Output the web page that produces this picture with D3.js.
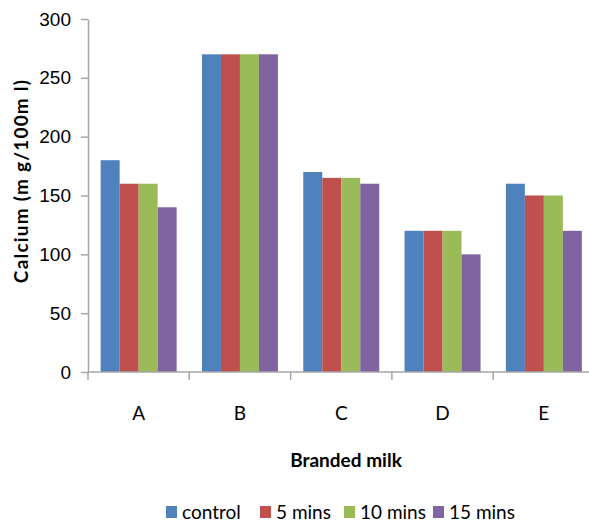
<!DOCTYPE html>
<html>
<head>
<meta charset="utf-8">
<script src="https://cdn.jsdelivr.net/npm/d3@7"></script>
<style>
  body { margin: 0; background: #fff; }
  svg { display: block; font-family: Lato, "Open Sans", sans-serif; }
</style>
</head>
<body>
<div id="chart"></div>
<script>
// data
const categories = ["A", "B", "C", "D", "E"];
const seriesNames = ["control", "5 mins", "10 mins", "15 mins"];
const control = [180, 270, 170, 120, 160];
const mins5 = [160, 270, 165, 120, 150];
const mins10 = [160, 270, 165, 120, 150];
const mins15 = [140, 270, 160, 100, 120];
const yTicks = [0, 50, 100, 150, 200, 250, 300];
const colors = ["#4F81BD", "#C0504D", "#9BBB59", "#8064A2"];

const seriesValues = [control, mins5, mins10, mins15];
const rows = categories.map((c, i) => ({
    cat: c,
    vals: seriesNames.map((s, j) => ({ key: s, value: seriesValues[j][i] }))
}));

const width = 589;
const height = 525;
const marginLeft = 88;
const marginTop = 19;
const plotBottom = 372;
const plotRight = 594.5;

const svg = d3.select("#chart").append("svg")
    .attr("width", width)
    .attr("height", height);

const x0 = d3.scaleBand().domain(categories).range([marginLeft, plotRight]).padding(0);
const gap = x0.step() * 0.25;
const x1 = d3.scaleBand().domain(seriesNames).range([gap / 2, x0.bandwidth() - gap / 2]).padding(0);
const y = d3.scaleLinear().domain([0, 300]).range([plotBottom, marginTop]);
const color = d3.scaleOrdinal().domain(seriesNames).range(colors);

// bars
svg.append("g")
    .selectAll("g")
    .data(rows)
    .join("g")
        .attr("transform", d => `translate(${x0(d.cat)},0)`)
    .selectAll("rect")
    .data(d => d.vals)
    .join("rect")
        .attr("x", d => x1(d.key))
        .attr("y", d => y(d.value))
        .attr("width", x1.bandwidth())
        .attr("height", d => y(0) - y(d.value))
        .attr("fill", d => color(d.key));

// y axis
const gY = svg.append("g")
    .attr("transform", `translate(${marginLeft},0)`)
    .call(d3.axisLeft(y).tickValues(yTicks).tickSize(7).tickPadding(10).tickSizeOuter(0));
gY.select(".domain").attr("stroke", "#a6a6a6").attr("stroke-width", 1.5);
gY.selectAll(".tick line").attr("stroke", "#a6a6a6").attr("stroke-width", 1.5);
gY.selectAll(".tick text").attr("font-size", 19).attr("fill", "#000")
    .attr("font-family", "inherit");

// x axis: ticks between categories
const gX = svg.append("g")
    .attr("transform", `translate(0,${plotBottom})`);
gX.append("line")
    .attr("x1", marginLeft).attr("x2", plotRight)
    .attr("stroke", "#a6a6a6").attr("stroke-width", 1.5);
gX.selectAll("line.sep")
    .data(categories)
    .join("line")
        .attr("class", "sep")
        .attr("x1", d => x0(d)).attr("x2", d => x0(d))
        .attr("y1", 0).attr("y2", 8)
        .attr("stroke", "#a6a6a6").attr("stroke-width", 1.5);
gX.selectAll("text")
    .data(categories)
    .join("text")
        .attr("x", d => x0(d) + x0.bandwidth() / 2)
        .attr("y", 48)
        .attr("text-anchor", "middle")
        .attr("font-size", 19)
        .text(d => d);

// axis titles
svg.append("text")
    .attr("x", 346)
    .attr("y", 467)
    .attr("text-anchor", "middle")
    .attr("font-size", 19)
    .attr("font-weight", "bold")
    .text("Branded milk");

svg.append("text")
    .attr("transform", "translate(28,181) rotate(-90)")
    .attr("text-anchor", "middle")
    .attr("font-size", 19)
    .attr("font-weight", "bold")
    .attr("letter-spacing", 1.2)
    .text("Calcium  (m g/100m l)");

// legend
const legendX = [166, 260, 344, 433];
const legend = svg.append("g")
    .selectAll("g")
    .data(seriesNames)
    .join("g")
        .attr("transform", (d, i) => `translate(${legendX[i]},506)`);
legend.append("rect")
    .attr("width", 11)
    .attr("height", 12)
    .attr("fill", d => color(d));
legend.append("text")
    .attr("x", 16)
    .attr("y", 13)
    .attr("font-size", 19)
    .text(d => d);
</script>
</body>
</html>
